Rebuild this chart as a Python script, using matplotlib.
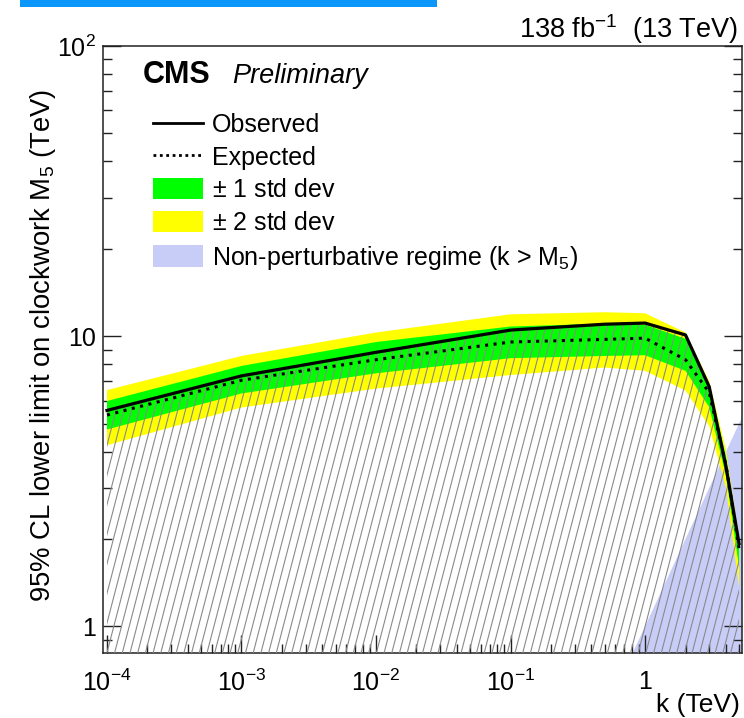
import numpy as np
import matplotlib
matplotlib.use("Agg")
import matplotlib.pyplot as plt
from matplotlib.collections import LineCollection
from matplotlib.lines import Line2D
from matplotlib.patches import Patch, Rectangle
from matplotlib.ticker import FixedLocator, FixedFormatter, NullFormatter

plt.rcParams['font.family'] = ['Liberation Sans', 'DejaVu Sans']
plt.rcParams['mathtext.fontset'] = 'custom'
plt.rcParams['mathtext.rm'] = 'Liberation Sans'
plt.rcParams['mathtext.it'] = 'Liberation Sans:italic'
plt.rcParams['mathtext.bf'] = 'Liberation Sans:bold'

# ---------------- data ----------------
k_values = [1e-4, 1e-3, 1e-2, 0.1, 0.5, 1.0, 2.0, 3.0, 4.0, 5.0]
observed = [5.55, 7.3, 8.8, 10.5, 11.0, 11.1, 10.1, 6.7, 3.55, 1.93]
expected = [5.35, 7.05, 8.3, 9.55, 9.75, 9.85, 8.3, 6.4, 3.6, 1.85]
one_sigma_lo = [4.77, 6.35, 7.45, 8.4, 8.55, 8.6, 7.6, 5.7, 3.3, 1.6]
one_sigma_hi = [5.98, 7.9, 9.55, 10.8, 11.05, 10.95, 9.8, 6.8, 3.85, 1.95]
two_sigma_lo = [4.21, 5.68, 6.6, 7.35, 7.8, 7.6, 6.5, 4.9, 3.0, 1.37]
two_sigma_hi = [6.52, 8.55, 10.3, 11.9, 12.1, 12.0, 10.3, 7.0, 4.05, 2.0]

x_ticks = [1e-4, 1e-3, 1e-2, 1e-1, 1]
x_ticklabels = [r'$10^{-4}$', r'$10^{-3}$', r'$10^{-2}$', r'$10^{-1}$', '1']
y_ticks = [1, 10, 100]
y_ticklabels = ['1', '10', r'$10^{2}$']

legend_labels = ['Observed', 'Expected', r'$\pm$ 1 std dev', r'$\pm$ 2 std dev',
                 r'Non-perturbative regime (k > M$_{5}$)']

k = np.array(k_values)
xlim = (9.34e-5, 5.26)
ylim = (0.81, 100)

# ---------------- figure ----------------
W, H = 744, 718
fig = plt.figure(figsize=(W / 100, H / 100), dpi=100)
ax_l, ax_r, ax_t, ax_b = 103, 742, 46, 653
ax = fig.add_axes([ax_l / W, 1 - ax_b / H, (ax_r - ax_l) / W, (ax_b - ax_t) / H])
ax.set_xscale('log')
ax.set_yscale('log')
ax.set_xlim(*xlim)
ax.set_ylim(*ylim)

# blue top bar (screenshot decoration)
fig.patches.append(Rectangle((20 / W, 1 - 7 / H), (437 - 20) / W, 7 / H,
                             transform=fig.transFigure, facecolor='#0a96fb',
                             edgecolor='none', zorder=0))

blue = '#c8cdf8'
# non-perturbative region k > M5
kk = np.geomspace(0.3, 6, 60)
ax.fill_between(kk, 0.1, kk, facecolor=blue, edgecolor='none', zorder=1)

ax.fill_between(k, two_sigma_lo, two_sigma_hi, facecolor='#ffff00', edgecolor='none', zorder=2)
ax.fill_between(k, one_sigma_lo, one_sigma_hi, facecolor='#00ff00', edgecolor='none', zorder=3)

# hatched excluded region below the observed limit
excl = ax.fill_between(k, 0.1, observed, facecolor='none', edgecolor='none', zorder=4)
clip_path = excl.get_paths()[0]
aw, ah = ax_r - ax_l, ax_b - ax_t
spacing = 7.7 / aw
shift = 0.26 * ah / aw
starts = np.arange(-shift - spacing, 1 + spacing, spacing)
segs = [[(s, 0), (s + shift, 1)] for s in starts]
lc = LineCollection(segs, transform=ax.transAxes, colors='#8a8a8a',
                    linewidths=0.8, zorder=4)
ax.add_collection(lc)
lc.set_clip_path(clip_path, ax.transData)

ax.plot(k, expected, color='black', lw=2.2, linestyle=(0, (1, 1.8)), zorder=5,
        dash_capstyle='butt')
ax.plot(k, observed, color='black', lw=2.3, zorder=6)

# ---------------- axes styling ----------------
for sp in ax.spines.values():
    sp.set_linewidth(1.1)
    sp.set_color('#222222')
ax.spines['top'].set_zorder(10)

ax.xaxis.set_major_locator(FixedLocator(x_ticks))
ax.xaxis.set_major_formatter(FixedFormatter(x_ticklabels))
xminor = [m * 10.0 ** e for e in range(-5, 1) for m in range(2, 10)]
ax.xaxis.set_minor_locator(FixedLocator(xminor))
ax.xaxis.set_minor_formatter(NullFormatter())
ax.yaxis.set_major_locator(FixedLocator(y_ticks))
ax.yaxis.set_major_formatter(FixedFormatter(y_ticklabels))
yminor = [m * 10.0 ** e for e in range(-1, 2) for m in range(2, 10)]
ax.yaxis.set_minor_locator(FixedLocator(yminor))
ax.yaxis.set_minor_formatter(NullFormatter())

ax.tick_params(axis='both', which='both', direction='in', color='#222222', width=1.0)
ax.tick_params(axis='x', which='major', length=13, pad=12, labelsize=18, top=False)
ax.tick_params(axis='x', which='minor', length=6.5, top=False)
ax.tick_params(axis='y', which='major', length=13, pad=5, labelsize=18, right=True)
ax.tick_params(axis='y', which='minor', length=6.5, right=True)

# ---------------- text ----------------
fig.text(43 / W, 1 - 345 / H, r'95% CL lower limit on clockwork M$_{5}$ (TeV)',
         rotation=90, ha='center', va='center', fontsize=19.8)
fig.text(740 / W, 1 - 712 / H, 'k (TeV)', ha='right', va='baseline', fontsize=19)
fig.text(738 / W, 1 - 38 / H, r'138 fb$^{-1}$  (13 TeV)', ha='right', va='baseline',
         fontsize=19.5)
fig.text(143 / W, 1 - 83 / H, 'CMS', ha='left', va='baseline', fontsize=22,
         fontweight='bold')
fig.text(232 / W, 1 - 83 / H, 'Preliminary', ha='left', va='baseline', fontsize=19.5,
         fontstyle='italic')

handles = [Line2D([], [], color='black', lw=2.0),
           Line2D([], [], color='black', lw=2.0, linestyle=(0, (1, 1.3))),
           Patch(facecolor='#00ff00', edgecolor='none'),
           Patch(facecolor='#ffff00', edgecolor='none'),
           Patch(facecolor=blue, edgecolor='none')]
leg = ax.legend(handles, legend_labels, loc='upper left',
                bbox_to_anchor=((153 - ax_l) / aw, 1 - (113 - ax_t) / ah),
                frameon=False, fontsize=18, borderpad=0, borderaxespad=0,
                handlelength=2.0, handleheight=0.92, handletextpad=0.36,
                labelspacing=0.34)
leg.set_zorder(20)

fig.savefig('out.png', dpi=100)
